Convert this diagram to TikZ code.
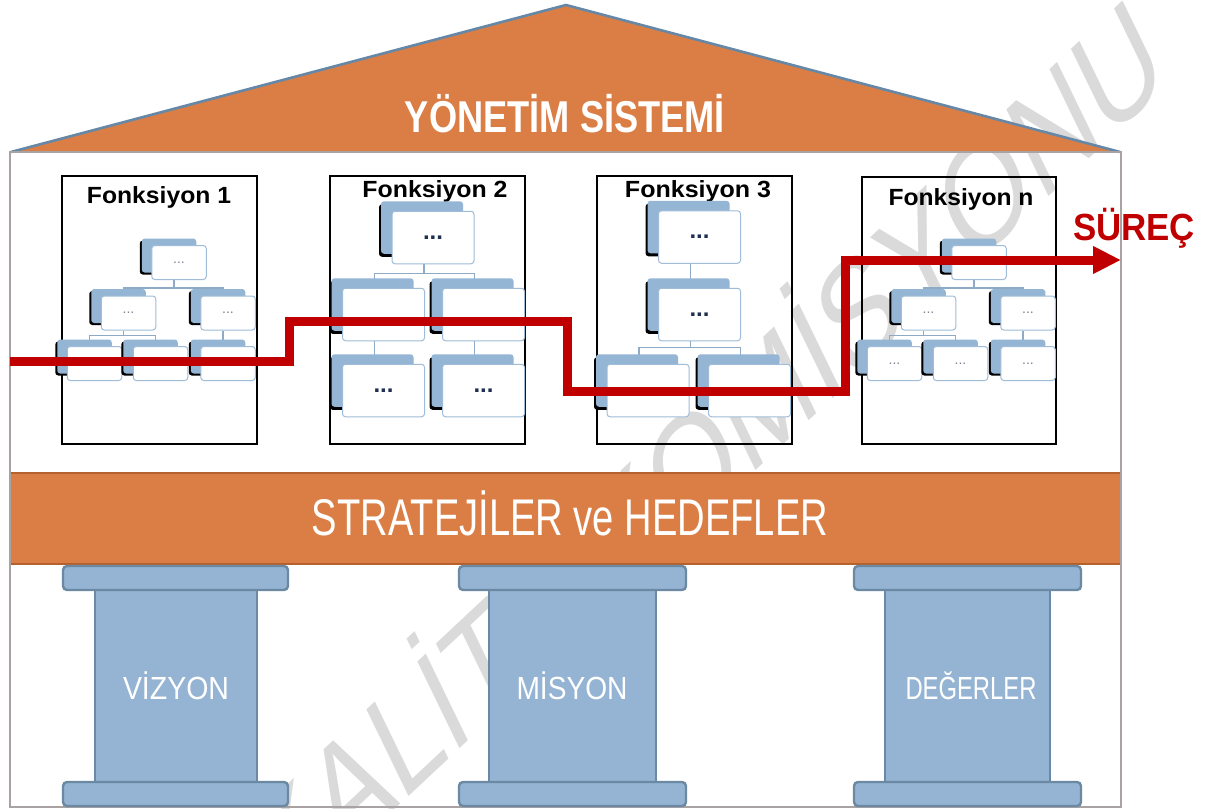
\documentclass[tikz,border=0pt]{standalone}
\usepackage{fontspec}
\setmainfont{Liberation Sans}
\usetikzlibrary{arrows.meta,shadows}

\definecolor{roofor}{HTML}{DB7E45}
\definecolor{bandline}{HTML}{B5612D}
\definecolor{roofline}{HTML}{6688A6}
\definecolor{wallgray}{HTML}{A8A2A2}
\definecolor{pillarfill}{HTML}{95B4D3}
\definecolor{pillarline}{HTML}{6B89A3}
\definecolor{cardblue}{HTML}{95B5D4}
\definecolor{cardline}{HTML}{9FBCD8}
\definecolor{linkline}{HTML}{8FAAC4}
\definecolor{procred}{HTML}{C00000}
\definecolor{wmgray}{HTML}{DADADA}
\definecolor{dotnavy}{HTML}{1F2F4F}
\definecolor{dotgray}{HTML}{7A8594}

\pgfdeclarelayer{base}
\pgfdeclarelayer{links}
\pgfsetlayers{base,links,main}

% squeeze text horizontally to a given width, keeping its height
\newcommand\squeeze[2]{\resizebox{#1}{\height}{#2}}

\tikzset{
  roofstroke/.style={draw=roofline, line width=1.3pt, line join=round},
  wall/.style={draw=wallgray, line width=1pt},
  funcbox/.style={draw=black, line width=0.6pt},
  functitle/.style={anchor=base, inner sep=0pt, font=\bfseries\fontsize{11.7}{12}\selectfont},
  pillarpart/.style={fill=pillarfill, draw=pillarline, line width=1.2pt, rounded corners=2pt},
  pillartext/.style={anchor=base, inner sep=0pt, text=white, font=\fontsize{16}{16}\selectfont},
  scard/.style={draw=cardline, line width=0.5pt, fill=white, rounded corners=1.5pt,
    inner sep=0pt, minimum width=27.25pt, minimum height=17pt,
    text=dotgray, font=\fontsize{7}{7}\selectfont,
    general shadow={fill=black, shadow xshift=-6pt, shadow yshift=2.5pt},
    general shadow={fill=cardblue, shadow xshift=-5pt, shadow yshift=3.5pt}},
  bcard/.style={draw=cardline, line width=0.5pt, fill=white, rounded corners=1.5pt,
    inner sep=0pt, minimum width=41pt, minimum height=26.25pt,
    text=dotnavy, font=\bfseries\fontsize{12}{12}\selectfont,
    general shadow={fill=black, shadow xshift=-6.5pt, shadow yshift=3.5pt},
    general shadow={fill=cardblue, shadow xshift=-5.5pt, shadow yshift=5pt}},
  link/.style={draw=linkline, line width=0.6pt},
  process/.style={draw=procred, line width=4.5pt, line join=miter,
    -{Triangle[length=14pt,width=13pt]}},
}

% a three-level chart of six small cards, shifted by (#2,#3)
\newcommand\smalltree[3]{%
  \begin{scope}[shift={(#2,#3)}]
    \node[scard] (#1t) at (179,262.5) {...};
    \node[scard] (#1l) at (128.5,313) {...};
    \node[scard] (#1r) at (228,313) {...};
    \node[scard] (#1a) at (94.5,363.5) {...};
    \node[scard] (#1b) at (160.5,363.5) {...};
    \node[scard] (#1c) at (228,363.5) {...};
  \end{scope}
  \begin{pgfonlayer}{links}
    \draw[link] ([xshift=-2.5pt]#1t.south) -- ++(0,-4pt) -| ([xshift=-2.5pt]#1l.north);
    \draw[link] ([xshift=-2.5pt]#1t.south) -- ++(0,-4pt) -| ([xshift=-2.5pt]#1r.north);
    \draw[link] ([xshift=-2.5pt]#1l.south) -- ++(0,-2.5pt) -| ([xshift=-2.5pt]#1a.north);
    \draw[link] ([xshift=-2.5pt]#1l.south) -- ++(0,-2.5pt) -| ([xshift=-2.5pt]#1b.north);
    \draw[link] ([xshift=-2.5pt]#1r.south) -- ([xshift=-2.5pt]#1c.north);
  \end{pgfonlayer}}

\begin{document}
\begin{tikzpicture}[x=0.5pt, y=-0.5pt]
\useasboundingbox (0,0) rectangle (1207,809);

% paper and watermark
\begin{pgfonlayer}{base}
  \fill[white] (0,0) rectangle (1207,809);
  \begin{scope}[shift={(700,445)}, xscale=0.72]
    \node[transform shape, rotate=34, inner sep=0pt, text=wmgray,
          font=\fontsize{76}{78}\selectfont] (watermark) at (0,0) {KALİTE KOMİSYONU};
  \end{scope}
\end{pgfonlayer}

% roof
\fill[roofor] (11,152) -- (566,5) -- (1120,152) -- cycle;
\draw[roofstroke] (11,152) -- (566,5) -- (1120,152);
\node[anchor=base, inner sep=0pt, text=white, font=\bfseries\fontsize{22.3}{23}\selectfont]
  (system) at (565,132) {\squeeze{160pt}{YÖNETİM SİSTEMİ}};

% walls
\draw[wall] (10,152) rectangle (1121,807);

% function boxes and titles
\draw[funcbox] (62,176) rectangle (257,444);
\draw[funcbox] (330,176) rectangle (525,444);
\draw[funcbox] (597,176) rectangle (792,444);
\draw[funcbox] (862,177) rectangle (1056,444);
\node[functitle] (t1) at (159,203) {\squeeze{72pt}{Fonksiyon 1}};
\node[functitle] (t2) at (435,197) {\squeeze{72.5pt}{Fonksiyon 2}};
\node[functitle] (t3) at (698,197) {\squeeze{73pt}{Fonksiyon 3}};
\node[functitle] (tn) at (961,205) {\squeeze{72.5pt}{Fonksiyon n}};

% function 1 and function n charts
\smalltree{fa}{0}{0}
\smalltree{fn}{800}{0}

% function 2 chart
\node[bcard] (b1) at (433,237.5) {...};
\node[bcard] (b2) at (383.5,314.5) {};
\node[bcard] (b3) at (483.5,314.5) {};
\node[bcard] (b4) at (383.5,390.5) {...};
\node[bcard] (b5) at (483.5,390.5) {...};
\begin{pgfonlayer}{links}
  \draw[link] ([xshift=-4.5pt]b1.south) -- ++(0,-4.5pt) -| ([xshift=-4.5pt]b2.north);
  \draw[link] ([xshift=-4.5pt]b1.south) -- ++(0,-4.5pt) -| ([xshift=-4.5pt]b3.north);
  \draw[link] ([xshift=-4.5pt]b2.south) -- ([xshift=-4.5pt]b4.north);
  \draw[link] ([xshift=-4.5pt]b3.south) -- ([xshift=-4.5pt]b5.north);
\end{pgfonlayer}

% function 3 chart
\node[bcard] (c1) at (699.5,237) {...};
\node[bcard] (c2) at (699.5,314.5) {...};
\node[bcard] (c3) at (648,390.5) {...};
\node[bcard] (c4) at (749.5,390.5) {...};
\begin{pgfonlayer}{links}
  \draw[link] ([xshift=-4.5pt]c1.south) -- ([xshift=-4.5pt]c2.north);
  \draw[link] ([xshift=-4.5pt]c2.south) -- ++(0,-3pt) -| ([xshift=-4.5pt]c3.north);
  \draw[link] ([xshift=-4.5pt]c2.south) -- ++(0,-3pt) -| ([xshift=-4.5pt]c4.north);
\end{pgfonlayer}

% process line
\coordinate (pstart) at (10,361);
\coordinate (pend) at (1121,260);
\draw[process] (pstart) -| (289,321) -| (567,391) -| (845,260) -- (pend);
\node[anchor=base, inner sep=0pt, text=procred, font=\bfseries\fontsize{18.9}{19}\selectfont]
  (surec) at (1134,240) {\squeeze{61pt}{SÜREÇ}};

% strategy band
\fill[roofor] (11,473) rectangle (1120,564);
\draw[bandline, line width=1pt] (11,473) -- (1120,473) (11,564) -- (1120,564);
\node[anchor=base, inner sep=0pt, text=white, font=\fontsize{25.8}{26}\selectfont]
  (strategy) at (570,535) {\squeeze{258pt}{STRATEJİLER ve HEDEFLER}};

% pillars
\draw[pillarpart, rounded corners=0pt] (95,589) rectangle (257,783);
\draw[pillarpart] (63,566) rectangle (288,590);
\draw[pillarpart] (63,782) rectangle (288,806);
\node[pillartext] (vision) at (176,699) {\squeeze{53pt}{VİZYON}};

\draw[pillarpart, rounded corners=0pt] (489,589) rectangle (656,783);
\draw[pillarpart] (459,566) rectangle (686,590);
\draw[pillarpart] (459,782) rectangle (686,806);
\node[pillartext] (mission) at (572,699) {\squeeze{55.5pt}{MİSYON}};

\draw[pillarpart, rounded corners=0pt] (885,589) rectangle (1050,783);
\draw[pillarpart] (854,566) rectangle (1081,590);
\draw[pillarpart] (854,782) rectangle (1081,806);
\node[pillartext] (values) at (971,699) {\squeeze{65.5pt}{DEĞERLER}};
\end{tikzpicture}
\end{document}
